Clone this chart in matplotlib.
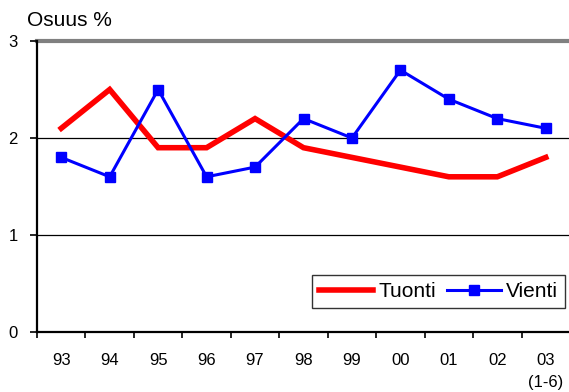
import matplotlib
matplotlib.use("Agg")
import matplotlib.pyplot as plt
import numpy as np

years = ["93", "94", "95", "96", "97", "98", "99", "00", "01", "02", "03\n(1-6)"]
tuonti = [2.1, 2.5, 1.9, 1.9, 2.2, 1.9, 1.8, 1.7, 1.6, 1.6, 1.8]
vienti = [1.8, 1.6, 2.5, 1.6, 1.7, 2.2, 2.0, 2.7, 2.4, 2.2, 2.1]
yticks = [0, 1, 2, 3]

plt.rcParams["font.family"] = ["Liberation Sans", "DejaVu Sans"]

fig = plt.figure(figsize=(5.69, 3.92), dpi=100)
ax = fig.add_axes([37 / 569, 1 - 332 / 392, 533 / 569, 291 / 392])

x = np.arange(len(years))
ax.set_xlim(-0.5, len(years) - 0.5)
ax.set_ylim(0, 3)

for v in yticks[1:3]:
    ax.axhline(v, color="black", lw=0.9, zorder=1)
ax.axhline(3, color="#808080", lw=3, zorder=1, clip_on=False)

ax.plot(x, tuonti, color="#ff0000", lw=4, label="Tuonti", zorder=3,
        solid_joinstyle="miter")
ax.plot(x, vienti, color="#0000ff", lw=2.2, marker="s", markersize=7,
        label="Vienti", zorder=4)

ax.set_yticks(yticks)
ax.set_yticklabels([str(v) for v in yticks], fontsize=12)
ax.set_xticks(x)
ax.set_xticklabels(years, fontsize=12, linespacing=1.6, va="top")
ax.set_xticks(np.arange(-0.5, len(years) + 0.5, 1), minor=True)
ax.tick_params(axis="x", which="major", length=0, pad=15)
ax.tick_params(axis="x", which="minor", length=4.5, width=1.2, direction="out",
               bottom=True)
ax.tick_params(axis="y", length=5, width=1.2, direction="out", pad=9)

for s in ["top", "right"]:
    ax.spines[s].set_visible(False)
for s in ["left", "bottom"]:
    ax.spines[s].set_linewidth(1.6)

leg = ax.legend(loc="lower right", bbox_to_anchor=(0.991, 0.082), ncol=2,
                fontsize=15, frameon=True, fancybox=False, edgecolor="black",
                handlelength=2.6, handletextpad=0.25, columnspacing=0.5,
                borderpad=0.35, borderaxespad=0)
leg.get_frame().set_linewidth(1.0)

fig.text(27 / 569, 1 - 20 / 392, "Osuus %", fontsize=15, ha="left", va="center")

fig.savefig("out.png", dpi=100)
